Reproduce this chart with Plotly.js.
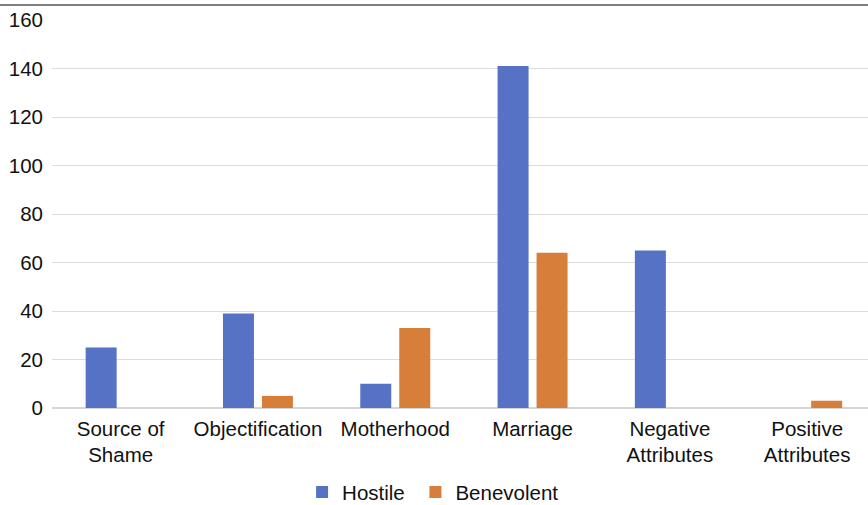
<!DOCTYPE html>
<html>
<head>
<meta charset="utf-8">
<script src="https://cdn.plot.ly/plotly-3.0.1.min.js"></script>
<style>html,body{margin:0;padding:0;background:#fff;}#chart{width:868px;height:505px;}</style>
</head>
<body>
<div id="chart"></div>
<script>
const categories = ["Source of<br>Shame", "Objectification", "Motherhood", "Marriage", "Negative<br>Attributes", "Positive<br>Attributes"];
const hostile = [25, 39, 10, 141, 65, 0];
const benevolent = [0, 5, 33, 64, 0, 3];
const yTicks = [0, 20, 40, 60, 80, 100, 120, 140, 160];

const font = {family: "Liberation Sans, Arial, Helvetica, sans-serif", size: 20.5, color: "#111"};

const traces = [
  {type: "bar", name: "Hostile\u00a0", x: categories, y: hostile, marker: {color: "#5672C4"}, hoverinfo: "y"},
  {type: "bar", name: "Benevolent", x: categories, y: benevolent, marker: {color: "#D87E3B"}, hoverinfo: "y"}
];

const layout = {
  width: 868, height: 505,
  margin: {l: 52, r: 0, t: 20, b: 97, autoexpand: false},
  paper_bgcolor: "#fff", plot_bgcolor: "#fff",
  font: font,
  barmode: "group",
  bargap: 0.432,
  bargroupgap: 0.205,
  showlegend: true,
  legend: {orientation: "h", x: 0.467, xanchor: "center", y: -0.217, yanchor: "middle", font: font, tracegroupgap: 0},
  xaxis: {
    type: "category",
    range: [-0.5, 5.443],
    showgrid: false, zeroline: false, showline: false,
    ticks: "", ticklabelstandoff: 6, tickfont: font, fixedrange: true, automargin: false
  },
  yaxis: {
    range: [0, 160],
    tickvals: yTicks, ticktext: yTicks.map(String),
    showgrid: true, gridcolor: "#dcdcdc", gridwidth: 1,
    zeroline: true, zerolinecolor: "#d6d6d6", zerolinewidth: 2,
    showline: false, ticks: "", ticklabelstandoff: 8,
    tickfont: font, fixedrange: true, automargin: false
  },
  shapes: [
    {type: "line", xref: "paper", yref: "paper", x0: -52/816, x1: 1, y0: 403/388, y1: 403/388, line: {color: "#555", width: 1.5}}
  ]
};

Plotly.newPlot("chart", traces, layout, {displayModeBar: false, staticPlot: true});
</script>
</body>
</html>
